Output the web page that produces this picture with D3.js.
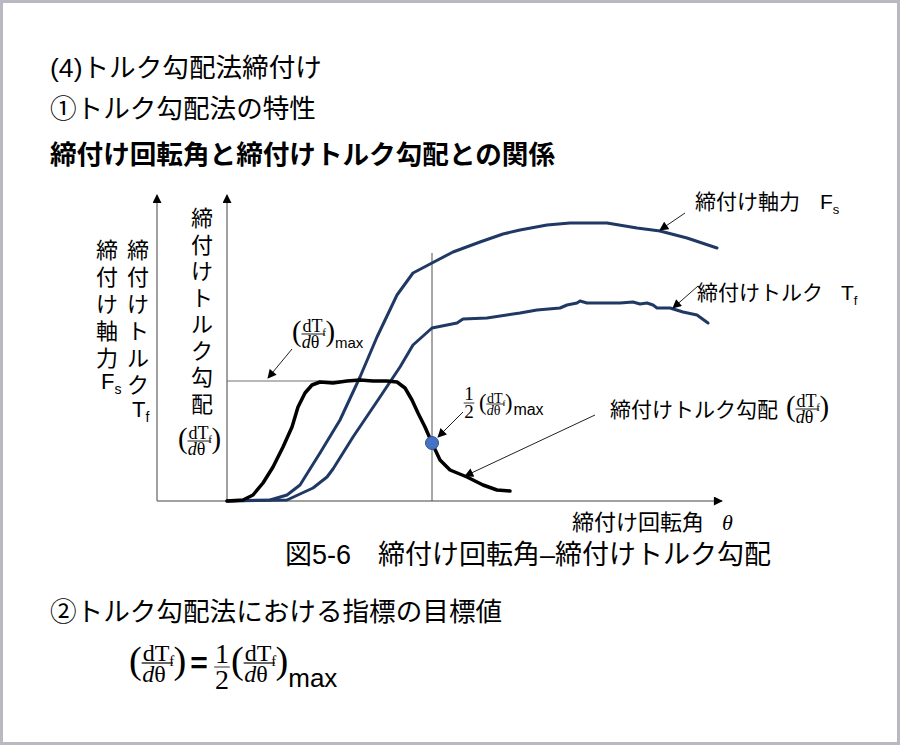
<!DOCTYPE html>
<html><head><meta charset="utf-8">
<script src="https://cdn.jsdelivr.net/npm/d3@7"></script>
<style>
html,body{margin:0;padding:0;background:#fff;}
svg text{fill:#000;}
</style></head><body>
<svg id="c" width="900" height="745" style="font-family:'Liberation Sans','Noto Sans CJK JP',sans-serif"></svg>
<script>
// ---------- data ----------
const titleLines = ["(4)トルク勾配法締付け", "①トルク勾配法の特性", "締付け回転角と締付けトルク勾配との関係"];
const caption = "図5-6　締付け回転角–締付けトルク勾配";
const targetTitle = "②トルク勾配法における指標の目標値";
const xAxisLabel = "締付け回転角";
const colForce = ["締", "付", "け", "軸", "力"];
const colTorque = ["締", "付", "け", "ト", "ル", "ク"];
const colGrad = ["締", "付", "け", "ト", "ル", "ク", "勾", "配"];
const forceLabel = "締付け軸力";
const torqueLabel = "締付けトルク";
const gradLabel = "締付けトルク勾配";

// torque gradient dT/dθ (black)
const gradTheta = [0,16,26,36,46,56,65,71,78,85,93,106,120,133,146,160,170,178,185,191,198,205,213,223,240,256,270,283];
const gradValue = [0,1,6,18,34,54,74,94,108,116,119,118,120,121,120,120,119,113,101,88,74,58,41,31,24,16,11,10];
// axial force Fs
const forceTheta = [0,43,60,73,93,113,133,150,170,186,205,226,253,276,293,320,343,380,410,433,460,490];
const forceValue = [0,1,6,16,48,81,124,164,206,228,238,249,259,267,271,276,278,278,273,270,263,253];
// tightening torque Tf
const torqueTheta = [0,60,86,100,106,126,153,173,186,205,220,230,236,260,293,310,333,340,350,353,360,376,393,406,413,420,426,430,443,456,470,481];
const torqueValue = [0,1,13,24,32,64,104,134,156,173,176,178,182,183,188,191,193,196,198,200,198,198,198,199,197,198,196,193,193,189,186,178];
const maxGrad = 120;
const halfTheta = 205, halfValue = 58;

// ---------- drawing ----------
const svg = d3.select("#c");
svg.append("rect").attr("x",1.5).attr("y",1.5).attr("width",897).attr("height",742)
  .attr("fill","#fff").attr("stroke","#b9b9c1").attr("stroke-width",3);

const x = d3.scaleLinear().domain([0,495]).range([227,722]);
const y = d3.scaleLinear().domain([0,310]).range([501,191]);

const defs = svg.append("defs");
["ah","axh"].forEach(id=>{
  defs.append("marker").attr("id",id).attr("viewBox","0 0 10 10").attr("refX",9).attr("refY",5)
    .attr("markerWidth",10).attr("markerHeight",9).attr("markerUnits","userSpaceOnUse").attr("orient","auto")
    .append("path").attr("d","M0,0L10,5L0,10Z").attr("fill","#000");
});

// titles
const tY = [77, 118, 164];
titleLines.forEach((t,i)=>{
  svg.append("text").attr("x",50).attr("y",tY[i]).attr("font-size",26.6)
    .attr("font-weight", i===2 ? "bold" : "normal").text(t);
});

// axes
const axisColor = "#808080";
svg.append("line").attr("x1",x(-70)).attr("x2",x(-70)).attr("y1",y(0)).attr("y2",y(306))
  .attr("stroke",axisColor).attr("stroke-width",1.5).attr("marker-end","url(#axh)");
svg.append("line").attr("x1",x(0)).attr("x2",x(0)).attr("y1",y(0)).attr("y2",y(306))
  .attr("stroke",axisColor).attr("stroke-width",1.5).attr("marker-end","url(#axh)");
svg.append("line").attr("x1",x(-70)).attr("x2",x(495)).attr("y1",y(0)).attr("y2",y(0))
  .attr("stroke",axisColor).attr("stroke-width",1.5).attr("marker-end","url(#axh)");

// guide lines
svg.append("line").attr("x1",x(0)).attr("x2",x(130)).attr("y1",y(maxGrad)).attr("y2",y(maxGrad))
  .attr("stroke","#707070").attr("stroke-width",1);
svg.append("line").attr("x1",x(halfTheta)).attr("x2",x(halfTheta)).attr("y1",y(248)).attr("y2",y(0))
  .attr("stroke","#505050").attr("stroke-width",1);

// curves
const line = d3.line().x(d=>x(d[0])).y(d=>y(d[1])).curve(d3.curveLinear);
const zip = (a,b)=>a.map((v,i)=>[v,b[i]]);
svg.append("path").attr("d",line(zip(forceTheta,forceValue))).attr("fill","none")
  .attr("stroke","#1f3864").attr("stroke-width",3).attr("stroke-linejoin","round").attr("stroke-linecap","round");
svg.append("path").attr("d",line(zip(torqueTheta,torqueValue))).attr("fill","none")
  .attr("stroke","#1f3864").attr("stroke-width",3).attr("stroke-linejoin","round").attr("stroke-linecap","round");
svg.append("path").attr("d",line(zip(gradTheta,gradValue))).attr("fill","none")
  .attr("stroke","#000").attr("stroke-width",3.5).attr("stroke-linejoin","round").attr("stroke-linecap","round");

svg.append("circle").attr("cx",x(halfTheta)).attr("cy",y(halfValue)).attr("r",6.5)
  .attr("fill","#4472c4").attr("stroke","#2f528f").attr("stroke-width",1);

// fraction helper
const serif = "'Liberation Serif','DejaVu Serif',serif";
function st(sel){ return sel.style("font-family", serif); }
function frac(g, x0, yBar, fs){
  const pf = fs*1.6;
  st(g.append("text")).attr("x",x0).attr("y",yBar+pf*0.25).attr("font-size",pf).text("(");
  const nx = x0 + pf*0.33;
  st(g.append("text")).attr("x",nx+fs*0.05).attr("y",yBar-fs*0.1).attr("font-size",fs).text("dT");
  st(g.append("text")).attr("x",nx+fs*1.15).attr("y",yBar+fs*0.12).attr("font-size",fs*0.62).text("f");
  g.append("line").attr("x1",nx).attr("x2",nx+fs*1.3).attr("y1",yBar).attr("y2",yBar).attr("stroke","#000").attr("stroke-width",Math.max(0.8,fs*0.05));
  const den = st(g.append("text")).attr("x",nx+fs*0.02).attr("y",yBar+fs*0.8).attr("font-size",fs);
  den.append("tspan").attr("font-style","italic").text("d");
  den.append("tspan").text("θ");
  st(g.append("text")).attr("x",nx+fs*1.33).attr("y",yBar+pf*0.25).attr("font-size",pf).text(")");
  return nx + fs*1.33 + pf*0.33;
}
function half(g, cx, yBar, fs){
  st(g.append("text")).attr("x",cx).attr("y",yBar-fs*0.16).attr("text-anchor","middle").attr("font-size",fs).text("1");
  g.append("line").attr("x1",cx-fs*0.28).attr("x2",cx+fs*0.28).attr("y1",yBar).attr("y2",yBar).attr("stroke","#000").attr("stroke-width",0.8);
  st(g.append("text")).attr("x",cx).attr("y",yBar+fs*0.8).attr("text-anchor","middle").attr("font-size",fs).text("2");
}

// vertical axis labels
const pitch = 27;
colForce.forEach((c,i)=>svg.append("text").attr("x",107).attr("y",258+i*pitch).attr("text-anchor","middle").attr("font-size",22).text(c));
{
  const t = svg.append("text").attr("x",101).attr("y",389).attr("font-size",22);
  t.append("tspan").text("F"); t.append("tspan").attr("font-size",14).attr("dy",5).text("s");
}
colTorque.forEach((c,i)=>svg.append("text").attr("x",138).attr("y",258+i*pitch).attr("text-anchor","middle").attr("font-size",22).text(c));
{
  const t = svg.append("text").attr("x",132).attr("y",417).attr("font-size",22);
  t.append("tspan").text("T"); t.append("tspan").attr("font-size",14).attr("dy",5).text("f");
}
colGrad.forEach((c,i)=>svg.append("text").attr("x",202).attr("y",226+i*26.5).attr("text-anchor","middle").attr("font-size",22).text(c));
frac(svg, 178, 441, 18);

// annotation labels
const g = svg.append("g");
{
  const e = frac(g, 292, 334, 18);
  g.append("text").attr("x",e).attr("y",348).attr("font-size",15).text("max");
}
{
  half(g, 469, 403, 19);
  const e = frac(g, 479, 404, 14);
  g.append("text").attr("x",e+1).attr("y",415).attr("font-size",16).text("max");
}
g.append("text").attr("x",610).attr("y",417).attr("font-size",21).text(gradLabel);
frac(g, 786, 409, 18);
{
  const t = g.append("text").attr("x",695).attr("y",209).attr("font-size",21);
  t.append("tspan").text(forceLabel);
  t.append("tspan").attr("dx",20).text("F");
  t.append("tspan").attr("font-size",13).attr("dy",5).text("s");
}
{
  const t = g.append("text").attr("x",697).attr("y",300).attr("font-size",21);
  t.append("tspan").text(torqueLabel);
  t.append("tspan").attr("dx",18).text("T");
  t.append("tspan").attr("font-size",13).attr("dy",5).text("f");
}

// annotation arrows
const arrows = [[292,349,268,378],[463,412,438,437],[595,415,465,476],[685,213,660,230],[698,286,673,308]];
arrows.forEach(a=>svg.append("line").attr("x1",a[0]).attr("y1",a[1]).attr("x2",a[2]).attr("y2",a[3])
  .attr("stroke","#222").attr("stroke-width",1).attr("marker-end","url(#ah)"));

// x axis label
{
  const t = svg.append("text").attr("x",572).attr("y",530).attr("font-size",22);
  t.append("tspan").text(xAxisLabel);
  st(t.append("tspan")).attr("dx",18).attr("font-style","italic").text("θ");
}

// caption
svg.append("text").attr("x",285).attr("y",564).attr("font-size",27).text(caption);

// target
svg.append("text").attr("x",50).attr("y",621).attr("font-size",26.6).text(targetTitle);
{
  const f = svg.append("g");
  frac(f, 129, 663, 24);
  f.append("text").attr("x",199).attr("y",673).attr("text-anchor","middle").attr("font-size",30).attr("font-weight","bold").text("=");
  half(f, 222, 667, 28);
  const e = frac(f, 231, 663, 24);
  f.append("text").attr("x",e).attr("y",687).attr("font-size",26).text("max");
}
</script>
</body></html>
